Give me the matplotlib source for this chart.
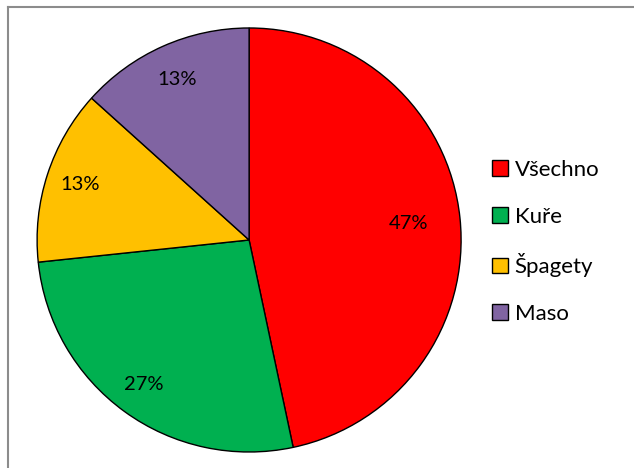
import matplotlib.pyplot as plt
import numpy as np
from matplotlib.patches import Patch

plt.rcParams['font.family'] = ['Lato', 'DejaVu Sans']

labels = ['Všechno', 'Kuře', 'Špagety', 'Maso']
values = [7, 4, 2, 2]
colors = ['#FF0000', '#00B050', '#FFC000', '#8064A2']
label_dist = [0.755, 0.845, 0.84, 0.83]

fig = plt.figure(figsize=(6.34, 4.68), dpi=100)
ax = fig.add_axes([0.0584, 0.0342, 0.669, 0.906])

wedges, _ = ax.pie(values, colors=colors, startangle=90, counterclock=False,
                   wedgeprops=dict(edgecolor='black', linewidth=1.0))

total = sum(values)
for w, v, d in zip(wedges, values, label_dist):
    mid = np.deg2rad((w.theta1 + w.theta2) / 2)
    ax.text(d * np.cos(mid), d * np.sin(mid), '%d%%' % round(100 * v / total),
            ha='center', va='center', fontsize=14.5, color='black')
ax.set_xlim(-1, 1)
ax.set_ylim(-1, 1)
ax.set_aspect('equal')

handles = [Patch(facecolor=c, edgecolor='black', linewidth=1.0) for c in colors]
fig.legend(handles, labels, loc='center left', bbox_to_anchor=(0.745, 0.483),
           frameon=False, fontsize=16, handlelength=0.7, handleheight=0.7,
           handletextpad=0.3, labelspacing=1.2)

# outer border (right and bottom fall outside the image)
fig.add_artist(plt.Line2D([7.5 / 634, 7.5 / 634], [0, 1 - 6.5 / 468], color='#8c8c8c', linewidth=1.5))
fig.add_artist(plt.Line2D([7.5 / 634, 1], [1 - 6.5 / 468, 1 - 6.5 / 468], color='#8c8c8c', linewidth=1.5))

fig.savefig('out.png', dpi=100)
